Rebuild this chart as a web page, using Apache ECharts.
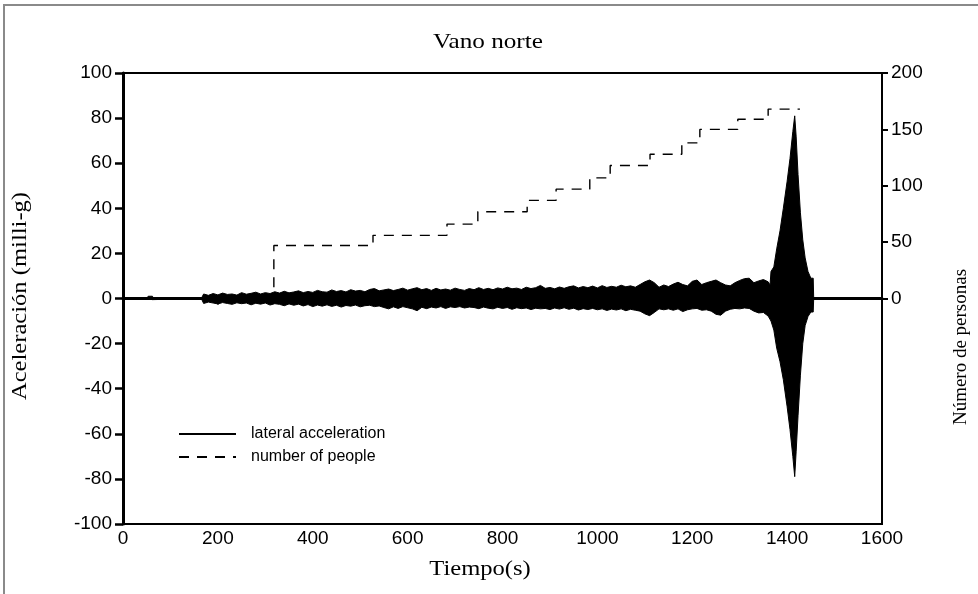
<!DOCTYPE html>
<html>
<head>
<meta charset="utf-8">
<title>Vano norte</title>
<script src="https://cdn.jsdelivr.net/npm/echarts@6/dist/echarts.min.js"></script>
<style>
  html, body { margin: 0; padding: 0; background: #fff; }
  #chart { width: 978px; height: 594px; }
</style>
</head>
<body>
<div id="chart"></div>
<script>
// Lateral acceleration envelope (milli-g): upper and lower bounds of the trace over time (s)
const accTime = [0, 50, 53, 62, 65, 165,
  170, 180, 190, 200, 210, 220, 230, 240, 250, 260, 270, 280, 290, 300,
  310, 320, 330, 340, 350, 360, 370, 380, 390, 400, 410, 420, 430, 440, 450, 460, 470, 480, 490, 500,
  510, 520, 530, 540, 550, 560, 570, 580, 590, 600, 610, 620, 630, 640, 650, 660, 670, 680, 690, 700,
  710, 720, 730, 740, 750, 760, 770, 780, 790, 800, 810, 820, 830, 840, 850, 860, 870, 880, 890, 900,
  910, 920, 930, 940, 950, 960, 970, 980, 990, 1000, 1010, 1020, 1030, 1040, 1050, 1060, 1070, 1080, 1090, 1100,
  1110, 1120, 1130, 1140, 1150, 1160, 1170, 1180, 1190, 1200, 1210, 1220, 1230, 1240, 1250, 1260, 1270, 1280, 1290, 1300,
  1310, 1320, 1330, 1340, 1350, 1360, 1364,
  1366, 1372, 1378, 1385, 1392, 1400, 1406, 1412, 1416, 1419, 1423, 1428, 1433, 1438, 1444, 1450, 1455, 1456];
const accUpper = [0, 0, 1, 1, 0, 0,
  2.0, 1.4, 2.2, 1.6, 2.4, 1.8, 2.0, 1.5, 2.6, 1.9, 2.3, 2.8, 2.0, 2.6,
  2.2, 3.0, 2.4, 3.2, 2.5, 2.9, 3.4, 2.6, 3.1, 2.7, 3.6, 3.0, 2.8, 3.8, 3.1, 3.5, 2.9, 3.9, 3.3, 3.6,
  3.0, 4.0, 4.4, 3.4, 3.8, 4.2, 3.5, 4.0, 4.6, 3.7, 4.3, 4.8, 3.9, 4.4, 3.6, 4.5, 3.8, 4.2, 3.7, 4.6,
  4.0, 3.6, 4.4, 3.9, 4.8, 4.0, 4.5, 3.9, 4.7, 4.2, 5.0, 4.3, 4.6, 4.0, 5.0, 4.4, 4.8, 5.8, 4.5, 4.9,
  4.3, 5.1, 4.5, 5.2, 5.6, 4.7, 5.3, 4.8, 5.5, 4.7, 5.7, 4.9, 5.4, 5.0, 5.9, 5.2, 5.6, 5.0, 6.2, 7.4,
  8.2, 7.0, 5.0, 6.0, 5.3, 6.4, 7.2, 6.2, 5.6, 7.6, 8.2, 6.2, 7.0, 7.6, 8.2, 7.0, 6.0, 5.6, 7.0, 8.0,
  8.8, 9.0, 7.0, 7.8, 8.4, 7.4, 6.0,
  12, 14, 22, 30, 40, 52, 62, 74, 81, 72, 55, 38, 26, 18, 12, 9, 9, 0];
const accLower = [0, 0, -0.5, -0.5, 0, 0,
  -2.2, -1.6, -2.0, -2.4, -1.8, -2.2, -2.6, -1.9, -2.3, -2.0, -2.8, -2.1, -2.5, -2.0,
  -2.9, -2.3, -2.6, -3.2, -2.4, -3.0, -2.5, -3.3, -2.7, -3.6, -2.9, -3.4, -2.8, -3.5, -3.0, -3.8, -3.1, -3.4, -2.9, -3.7,
  -3.2, -3.0, -3.6, -3.3, -4.0, -4.6, -3.7, -4.4, -3.6, -4.1, -4.6, -5.4, -3.9, -4.5, -3.8, -4.2, -3.6, -4.4, -3.7, -4.0,
  -3.6, -4.2, -3.8, -4.0, -4.5, -3.8, -4.3, -4.6, -3.9, -4.4, -4.0, -4.8, -4.1, -4.5, -4.2, -4.9, -4.3, -4.6, -4.4, -4.9,
  -4.2, -4.7, -4.1, -4.8, -4.3, -5.1, -4.5, -4.9, -4.4, -5.0, -4.6, -5.3, -4.7, -5.1, -4.6, -5.4, -4.8, -5.2, -5.6, -6.8,
  -7.6, -6.2, -4.6, -5.0, -4.6, -5.2, -4.6, -5.8, -5.0, -4.6, -4.4, -5.2, -5.0, -5.6, -7.0, -7.4, -5.6, -4.8, -4.4, -4.6,
  -4.2, -4.4, -5.6, -6.4, -6.2, -7.8, -8.0,
  -10, -14, -22, -28, -36, -48, -58, -70, -79, -68, -52, -34, -20, -12, -8, -6, -6, 0];

// Number of people on the span (step changes)
const peopleTime = [0, 318, 527, 683, 748, 852, 913, 984, 1027, 1111, 1178, 1216, 1296, 1360, 1427];
const peopleCount = [0, 47, 56, 66, 77, 87, 97, 107, 118, 128, 138, 150, 159, 168, 168];

// Axis tick labels
const timeTicks = [0, 200, 400, 600, 800, 1000, 1200, 1400, 1600];
const accelTicks = [-100, -80, -60, -40, -20, 0, 20, 40, 60, 80, 100];
const peopleTicks = [0, 50, 100, 150, 200];

const zip = (xs, ys) => xs.map((x, i) => [x, ys[i]]);

const sansFont = '"Liberation Sans", Arial, sans-serif';
const serifFont = '"Liberation Serif", "Times New Roman", serif';
const plain = v => String(v);

const chart = echarts.init(document.getElementById('chart'), null, { renderer: 'canvas' });

const option = {
  animation: false,
  backgroundColor: '#fff',
  grid: {
    left: 123, right: 96, top: 73, bottom: 70,
    show: true, borderColor: '#000', borderWidth: 2, backgroundColor: 'transparent'
  },
  graphic: [
    { type: 'rect', shape: { x: 4, y: 5, width: 990, height: 600 }, style: { fill: 'none', stroke: '#8a8a8a', lineWidth: 2 }, silent: true },
    { type: 'text', x: 488, y: 42, scaleX: 1.2, style: { text: 'Vano norte', font: '21px ' + serifFont, fill: '#000', textAlign: 'center', textVerticalAlign: 'middle' } },
    { type: 'text', x: 480, y: 569, scaleX: 1.17, style: { text: 'Tiempo(s)', font: '21px ' + serifFont, fill: '#000', textAlign: 'center', textVerticalAlign: 'middle' } },
    { type: 'text', x: 20, y: 296, rotation: Math.PI / 2, scaleX: 1.17, style: { text: 'Aceleración (milli-g)', font: '21px ' + serifFont, fill: '#000', textAlign: 'center', textVerticalAlign: 'middle' } },
    { type: 'text', x: 961, y: 347, rotation: Math.PI / 2, style: { text: 'Número de personas', font: '19px ' + serifFont, fill: '#000', textAlign: 'center', textVerticalAlign: 'middle' } }
  ],
  legend: {
    orient: 'vertical',
    left: 173, top: 421,
    itemWidth: 57, itemHeight: 12, itemGap: 7,
    itemStyle: { opacity: 0 },
    textStyle: { fontFamily: sansFont, fontSize: 16, color: '#000', padding: [0, 0, 0, 10] },
    data: ['lateral acceleration', 'number of people']
  },
  xAxis: {
    type: 'value', min: 0, max: 1600, interval: 200,
    axisLine: { show: true, lineStyle: { color: '#000', width: 3 } },
    axisTick: { show: true, inside: false, length: 6, lineStyle: { color: '#000', width: 2 } },
    axisLabel: {
      margin: 5, color: '#000', fontFamily: sansFont, fontSize: 19,
      customValues: timeTicks, formatter: plain
    },
    splitLine: { show: false }
  },
  yAxis: [
    {
      type: 'value', min: -100, max: 100, interval: 20, position: 'left',
      axisLine: { show: true, lineStyle: { color: '#000', width: 3 } },
      axisTick: { show: true, inside: false, length: 8, lineStyle: { color: '#000', width: 2.5 } },
      axisLabel: {
        margin: 11, color: '#000', fontFamily: sansFont, fontSize: 19,
        customValues: accelTicks, formatter: plain
      },
      splitLine: { show: false }
    },
    {
      type: 'value', min: -200, max: 200, interval: 50, position: 'right',
      axisLine: { show: true, lineStyle: { color: '#000', width: 2 } },
      axisTick: { show: true, inside: false, length: 6, lineStyle: { color: '#000', width: 2 }, customValues: peopleTicks },
      axisLabel: {
        margin: 9, color: '#000', fontFamily: sansFont, fontSize: 19,
        customValues: peopleTicks, formatter: plain
      },
      splitLine: { show: false }
    }
  ],
  series: [
    {
      name: 'lateral acceleration', type: 'line', yAxisIndex: 0,
      data: zip(accTime, accUpper),
      symbol: 'none', showSymbol: false,
      lineStyle: { color: '#000', width: 1 },
      itemStyle: { color: '#000' },
      areaStyle: { color: '#000', opacity: 1 }
    },
    {
      name: 'lateral acceleration', type: 'line', yAxisIndex: 0,
      data: zip(accTime, accLower),
      symbol: 'none', showSymbol: false,
      lineStyle: { color: '#000', width: 1 },
      itemStyle: { color: '#000' },
      areaStyle: { color: '#000', opacity: 1 }
    },
    {
      name: 'number of people', type: 'line', yAxisIndex: 1, step: 'end',
      data: zip(peopleTime, peopleCount),
      symbol: 'none', showSymbol: false,
      lineStyle: { color: '#000', width: 1.4, type: [10, 8] },
      itemStyle: { color: '#000' },
      z: 3
    }
  ]
};

chart.setOption(option);
</script>
</body>
</html>
